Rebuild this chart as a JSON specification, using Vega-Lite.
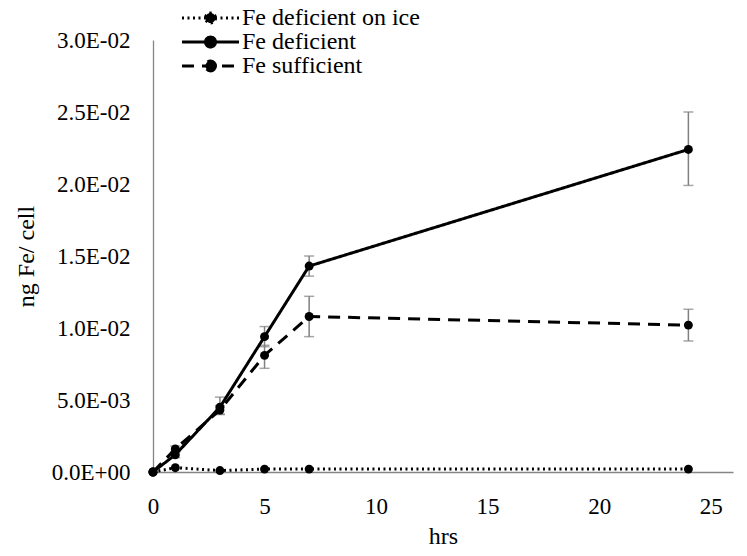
{
  "$schema": "https://vega.github.io/schema/vega-lite/v6.json",
  "width": 580,
  "height": 432,
  "autosize": {"type": "none"},
  "padding": {"left": 153, "top": 40, "right": 14, "bottom": 84},
  "background": "white",
  "config": {
    "view": {"stroke": null},
    "font": "Liberation Serif",
    "axis": {
      "domainColor": "#868686",
      "domainWidth": 1.3,
      "ticks": false,
      "grid": false,
      "labelFlush": false,
      "labelFont": "Liberation Serif",
      "labelFontSize": 23,
      "labelColor": "black",
      "titleFont": "Liberation Serif",
      "titleFontSize": 24,
      "titleFontWeight": "normal",
      "titleColor": "black"
    },
    "legend": {"labelFont": "Liberation Serif", "labelLimit": 400}
  },
  "datasets": {
    "series": [
      {"series": "Fe deficient on ice", "t": 0, "v": 0},
      {"series": "Fe deficient on ice", "t": 1, "v": 0.0003},
      {"series": "Fe deficient on ice", "t": 3, "v": 0.0001},
      {"series": "Fe deficient on ice", "t": 5, "v": 0.0002},
      {"series": "Fe deficient on ice", "t": 7, "v": 0.0002},
      {"series": "Fe deficient on ice", "t": 24, "v": 0.0002},
      {"series": "Fe deficient", "t": 0, "v": 0},
      {"series": "Fe deficient", "t": 1, "v": 0.0012},
      {"series": "Fe deficient", "t": 3, "v": 0.0045},
      {"series": "Fe deficient", "t": 5, "v": 0.0094},
      {"series": "Fe deficient", "t": 7, "v": 0.0143},
      {"series": "Fe deficient", "t": 24, "v": 0.0224},
      {"series": "Fe sufficient", "t": 0, "v": 0},
      {"series": "Fe sufficient", "t": 1, "v": 0.0016},
      {"series": "Fe sufficient", "t": 3, "v": 0.0043},
      {"series": "Fe sufficient", "t": 5, "v": 0.0081},
      {"series": "Fe sufficient", "t": 7, "v": 0.0108},
      {"series": "Fe sufficient", "t": 24, "v": 0.0102}
    ],
    "err": [
      {"series": "Fe deficient", "t": 1, "lo": 0.0010, "hi": 0.0014},
      {"series": "Fe deficient", "t": 3, "lo": 0.0040, "hi": 0.0052},
      {"series": "Fe deficient", "t": 5, "lo": 0.0087, "hi": 0.0101},
      {"series": "Fe deficient", "t": 7, "lo": 0.0136, "hi": 0.0150},
      {"series": "Fe deficient", "t": 24, "lo": 0.0199, "hi": 0.0250},
      {"series": "Fe sufficient", "t": 1, "lo": 0.0014, "hi": 0.0018},
      {"series": "Fe sufficient", "t": 3, "lo": 0.0040, "hi": 0.0046},
      {"series": "Fe sufficient", "t": 5, "lo": 0.0072, "hi": 0.0088},
      {"series": "Fe sufficient", "t": 7, "lo": 0.0094, "hi": 0.0122},
      {"series": "Fe sufficient", "t": 24, "lo": 0.0091, "hi": 0.0113}
    ]
  },
  "layer": [
    {
      "data": {"name": "err"},
      "mark": {
        "type": "errorbar",
        "ticks": {"color": "#808080", "size": 10, "thickness": 1.5},
        "rule": {"color": "#808080", "strokeWidth": 1.5}
      },
      "encoding": {
        "x": {"field": "t", "type": "quantitative", "scale": {"domain": [0, 25]}, "title": "hrs"},
        "y": {"field": "lo", "type": "quantitative", "scale": {"domain": [0, 0.03]}, "title": "ng Fe/ cell"},
        "y2": {"field": "hi"}
      }
    },
    {
      "data": {"name": "series"},
      "mark": {"type": "line", "color": "black", "strokeWidth": 3},
      "encoding": {
        "x": {
          "field": "t", "type": "quantitative", "scale": {"domain": [0, 25]},
          "axis": {"title": "hrs", "values": [0, 5, 10, 15, 20, 25], "labelPadding": 23, "titlePadding": 6}
        },
        "y": {
          "field": "v", "type": "quantitative", "scale": {"domain": [0, 0.03]},
          "axis": {
            "title": "ng Fe/ cell",
            "values": [0, 0.005, 0.01, 0.015, 0.02, 0.025, 0.03],
            "labelExpr": "upper(slice(format(datum.value,'.1e'),0,-1)) + '0' + slice(format(datum.value,'.1e'),-1)",
            "labelPadding": 23,
            "titlePadding": 13
          }
        },
        "strokeDash": {
          "field": "series",
          "type": "nominal",
          "scale": {
            "domain": ["Fe deficient on ice", "Fe deficient", "Fe sufficient"],
            "range": [[2, 3.5], [1, 0], [12, 8]]
          },
          "legend": {
            "orient": "none",
            "legendX": 45.5,
            "legendY": -34,
            "title": null,
            "symbolType": "M-5.7,0H5.7M1,0A1,1,0,1,1,-1,0A1,1,0,1,1,1,0",
            "symbolSize": 100,
            "symbolStrokeWidth": 3,
            "symbolStrokeColor": "black",
            "symbolFillColor": "black",
            "labelFont": "Liberation Serif",
            "labelFontSize": 24,
            "labelColor": "black",
            "labelLimit": 400,
            "labelOffset": 19.5,
            "rowPadding": -1
          }
        }
      }
    },
    {
      "data": {"name": "series"},
      "mark": {"type": "point", "filled": true, "color": "black", "size": 80, "opacity": 1},
      "encoding": {
        "x": {"field": "t", "type": "quantitative", "title": "hrs"},
        "y": {"field": "v", "type": "quantitative", "title": "ng Fe/ cell"}
      }
    }
  ]
}
